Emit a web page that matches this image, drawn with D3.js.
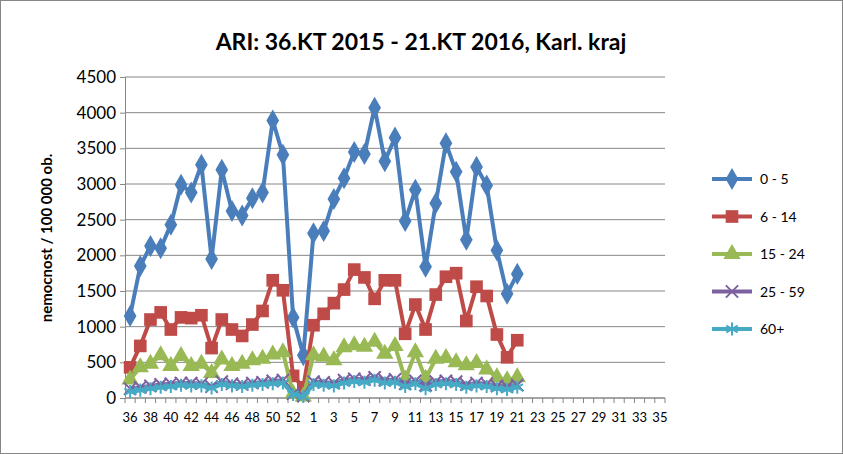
<!DOCTYPE html><html><head><meta charset="utf-8"><script src="https://cdn.jsdelivr.net/npm/d3@7"></script>
<style>body{margin:0;background:#fff}text{font-family:Lato,"Open Sans",sans-serif}</style></head><body><svg id="c" width="843" height="454"></svg><script>
const weeks=[36,37,38,39,40,41,42,43,44,45,46,47,48,49,50,51,52,53,1,2,3,4,5,6,7,8,9,10,11,12,13,14,15,16,17,18,19,20,21,22,23,24,25,26,27,28,29,30,31,32,33,34,35];
const s05=[1150,1850,2130,2100,2430,2990,2880,3270,1950,3200,2620,2560,2800,2880,3890,3410,1130,600,2310,2340,2790,3080,3450,3420,4070,3320,3650,2480,2920,1840,2730,3570,3170,2220,3240,2980,2070,1460,1740];
const s614=[430,730,1100,1200,960,1130,1120,1160,700,1100,960,870,1030,1220,1650,1510,310,150,1020,1180,1330,1520,1800,1690,1390,1650,1650,900,1310,960,1450,1700,1750,1080,1560,1430,890,570,810];
const s1524=[260,430,480,600,450,590,450,480,350,540,450,480,530,550,610,640,60,20,600,580,530,710,740,720,790,620,730,260,640,270,550,560,500,460,490,400,290,250,290];
const s2559=[130,150,170,190,200,210,210,200,160,230,200,190,210,220,240,250,60,30,230,220,210,250,270,260,290,250,260,200,240,180,230,240,230,190,210,200,170,160,180];
const s60=[90,110,130,150,160,180,170,170,140,190,170,160,180,190,200,210,50,20,190,180,170,210,230,220,250,210,220,160,200,130,190,200,190,150,170,160,130,120,150];
const yTicks=[0,500,1000,1500,2000,2500,3000,3500,4000,4500];
const names=["0 - 5","6 - 14","15 - 24","25 - 59","60+"];
const colors=["#4a7ebb","#be4b48","#98b954","#7d60a0","#46aac5"];
const data=[s05,s614,s1524,s2559,s60];
const svg=d3.select("#c");
svg.append("rect").attr("x",0.5).attr("y",0.5).attr("width",842).attr("height",453).attr("fill","#fff").attr("stroke","#868686");
const L=125,R=665,T=77,B=398;
const xs=d3.scaleLinear().domain([0,weeks.length]).range([L,R]);
const y=d3.scaleLinear().domain([0,4500]).range([B,T]);
const xc=i=>xs(i+0.5);
svg.append("g").selectAll("line").data(yTicks).join("line").attr("x1",L).attr("x2",R).attr("y1",d=>y(d)).attr("y2",d=>y(d)).attr("stroke","#868686");
const ya=svg.append("g").attr("transform",`translate(${L},0)`).call(d3.axisLeft(y).tickValues(yTicks).tickFormat(d3.format("d")).tickSize(5).tickPadding(4));
ya.selectAll("text").attr("font-size",17).attr("fill","#000");ya.selectAll("line,path").attr("stroke","#868686");
const xa=svg.append("g").attr("transform",`translate(0,${B})`);
xa.append("line").attr("x1",L).attr("x2",R).attr("stroke","#868686");
xa.selectAll("line.t").data(d3.range(weeks.length+1)).join("line").attr("class","t").attr("x1",d=>xs(d)).attr("x2",d=>xs(d)).attr("y2",5).attr("stroke","#868686");
xa.selectAll("text").data(weeks.map((w,i)=>[w,i]).filter(d=>d[1]%2==0)).join("text").attr("x",d=>xc(d[1])).attr("y",24).attr("text-anchor","middle").attr("font-size",13).text(d=>d[0]);
svg.append("text").attr("transform","translate(52,238) rotate(-90)").attr("text-anchor","middle").attr("font-size",15).attr("font-weight","bold").text("nemocnost / 100 000 ob.");
svg.append("text").attr("x",421).attr("y",50).attr("text-anchor","middle").attr("font-size",23).attr("font-weight","bold").text("ARI: 36.KT 2015 - 21.KT 2016, Karl. kraj");
const sym=[d3.symbolDiamond,d3.symbolSquare,d3.symbolTriangle,d3.symbolX,d3.symbolAsterisk];
const sz=[140,160,130,100,120];
const line=d3.line().x((d,i)=>xc(i)).y(d=>y(d));
data.forEach((s,k)=>{
 const g=svg.append("g");
 g.append("path").datum(s).attr("d",line).attr("fill","none").attr("stroke",colors[k]).attr("stroke-width",4).attr("stroke-linejoin","round");
 const isStroke=k>=3;
 g.selectAll("path.m").data(s).join("path").attr("class","m").attr("transform",(d,i)=>`translate(${xc(i)},${y(d)})`).attr("d",d3.symbol(sym[k],sz[k])).attr("fill",isStroke?"none":colors[k]).attr("stroke",colors[k]).attr("stroke-width",isStroke?2:0);
 const ly=179+k*37.5;
 g.append("line").attr("x1",712).attr("x2",752).attr("y1",ly).attr("y2",ly).attr("stroke",colors[k]).attr("stroke-width",4);
 g.append("path").attr("transform",`translate(732,${ly})`).attr("d",d3.symbol(sym[k],sz[k])).attr("fill",isStroke?"none":colors[k]).attr("stroke",colors[k]).attr("stroke-width",isStroke?2:0);
 g.append("text").attr("x",760).attr("y",ly+5).attr("font-size",14).text(names[k]);
});
</script></body></html>
